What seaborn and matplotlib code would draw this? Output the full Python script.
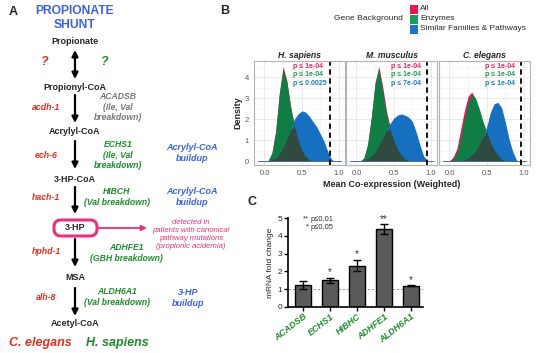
import numpy as np
import pandas as pd
import matplotlib
matplotlib.use('Agg')
import matplotlib.pyplot as plt
import seaborn as sns
from matplotlib.patches import FancyBboxPatch, Rectangle
from matplotlib.ticker import MultipleLocator

# ---- panel B: density curves (value at each x of the grid)
xs = [-0.05, 0.00, 0.05, 0.10, 0.15, 0.20, 0.25, 0.30, 0.35, 0.40, 0.45,
      0.50, 0.55, 0.60, 0.65, 0.70, 0.75, 0.80, 0.85, 0.90, 0.95, 1.00]

hs_all = [0, 0, 0.03, 0.39, 1.42, 3.28, 4.52, 3.85, 2.63, 1.71, 1.06, 0.56, 0.26, 0.08, 0.02, 0, 0, 0, 0, 0, 0, 0]
hs_enz = [0, 0, 0.03, 0.38, 1.40, 3.20, 4.40, 3.80, 2.60, 1.70, 1.05, 0.55, 0.25, 0.07, 0.01, 0, 0, 0, 0, 0, 0, 0]
hs_sim = [0, 0, 0.02, 0.07, 0.15, 0.35, 0.65, 1.05, 1.50, 2.00, 2.25, 2.40, 2.35, 2.15, 1.90, 1.65, 1.30, 0.95, 0.45, 0.08, 0.01, 0]

mm_all = [0, 0, 0.01, 0.15, 0.80, 2.10, 3.75, 4.52, 3.60, 2.45, 1.65, 1.05, 0.62, 0.30, 0.10, 0.02, 0, 0, 0, 0, 0, 0]
mm_enz = [0, 0, 0.01, 0.15, 0.80, 2.10, 3.70, 4.42, 3.40, 2.30, 1.55, 1.00, 0.60, 0.30, 0.10, 0.02, 0, 0, 0, 0, 0, 0]
mm_sim = [0, 0, 0.01, 0.05, 0.12, 0.25, 0.45, 0.75, 1.10, 1.45, 1.80, 2.05, 2.20, 2.25, 2.20, 2.10, 1.90, 1.40, 0.80, 0.25, 0.03, 0]

ce_all = [0, 0.02, 0.20, 0.60, 1.50, 2.40, 3.10, 3.30, 2.95, 2.40, 1.80, 1.30, 0.85, 0.50, 0.25, 0.08, 0.01, 0, 0, 0, 0, 0]
ce_enz = [0, 0, 0.10, 0.40, 1.10, 2.00, 2.80, 3.20, 3.00, 2.50, 1.90, 1.40, 0.90, 0.55, 0.30, 0.10, 0.02, 0, 0, 0, 0, 0]
ce_sim = [0, 0, 0, 0, 0.01, 0.05, 0.15, 0.30, 0.50, 0.80, 1.15, 1.65, 2.35, 2.75, 2.80, 2.55, 1.85, 1.05, 0.45, 0.05, 0, 0]

species = ['H. sapiens', 'M. musculus', 'C. elegans']
cutoffs = [0.88, 0.95, 0.955]
pvals = [['p ≤ 1e-04', 'p ≤ 1e-04', 'p ≤ 0.0025'],
         ['p ≤ 1e-04', 'p ≤ 1e-04', 'p ≤ 7e-04'],
         ['p ≤ 1e-04', 'p ≤ 1e-04', 'p ≤ 1e-04']]
backgrounds = ['All', 'Enzymes', 'Similar Families & Pathways']

# ---- panel C
genes = ['ACADSB', 'ECHS1', 'HIBHC', 'ADHFE1', 'ALDH6A1']
fold = [1.22, 1.49, 2.33, 4.40, 1.19]
sem = [0.21, 0.16, 0.32, 0.28, 0.03]
stars = ['', '*', '*', '**', '*']

RED = '#e3195a'
GREEN = '#0f7d44'
BLUE = '#1670bf'
DARK = '#2f4a3e'
LEG_COLS = ['#e8184f', '#17a05a', '#1a76c4']
P_COLS = ['#e0245e', '#1a9e50', '#1f7cc4']
T_RED = '#d9321f'
T_GREEN = '#1e8b2c'
T_BLUE = '#3a62e0'
PINK = '#e8327e'

sns.set_theme(style='white')
plt.rcParams['font.family'] = ['Liberation Sans', 'DejaVu Sans']

W, H = 538, 353
fig = plt.figure(figsize=(W / 100, H / 100), dpi=100)


def px_axes(l, t, r, b):
    return fig.add_axes([l / W, 1 - b / H, (r - l) / W, (b - t) / H])


# overlay for the pathway diagram, panel letters and legend
ov = fig.add_axes([0, 0, 1, 1])
ov.set_xlim(0, W)
ov.set_ylim(H, 0)
ov.axis('off')
ov.patch.set_alpha(0)

for lab, x, y in [('A', 13, 12), ('B', 225, 11), ('C', 252, 202)]:
    ov.text(x, y, lab, fontsize=9, fontweight='bold', ha='center', va='center')

ov.text(75, 11, 'PROPIONATE', color=T_BLUE, fontsize=8.7, fontweight='bold', ha='center', va='center')
ov.text(75, 25, 'SHUNT', color=T_BLUE, fontsize=8.7, fontweight='bold', ha='center', va='center')

metabolites = [('Propionate', 41), ('Propionyl-CoA', 87), ('Acrylyl-CoA', 132),
               ('3-HP-CoA', 179), ('MSA', 278), ('Acetyl-CoA', 324)]
for name, y in metabolites:
    ov.text(75, y, name, fontsize=6.5, fontweight='bold', ha='center', va='center')

ov.text(75, 228, '3-HP', fontsize=6.5, fontweight='bold', ha='center', va='center', zorder=5)
ov.add_patch(FancyBboxPatch((54, 220), 43, 16, boxstyle='round,pad=0,rounding_size=7',
                            ec=PINK, fc='white', lw=2.2, zorder=4))

arrow_kw = dict(arrowstyle='-|>', color='black', lw=1.6, mutation_scale=9, shrinkA=0, shrinkB=0)
ov.annotate('', xy=(75, 79), xytext=(75, 50),
            arrowprops=dict(arrow_kw, arrowstyle='<|-|>'))
for y0, y1 in [(95, 123), (141, 169), (187, 214), (239, 267), (288, 316)]:
    ov.annotate('', xy=(75, y1), xytext=(75, y0), arrowprops=arrow_kw)

ov.annotate('', xy=(147, 228), xytext=(97, 228),
            arrowprops=dict(arrowstyle='-|>', color=PINK, lw=1.3, mutation_scale=8, shrinkA=0, shrinkB=0))

ital = dict(fontstyle='italic', fontweight='bold', ha='center', va='center')
ov.text(45, 62, '?', color=T_RED, fontsize=9, **ital)
ov.text(105, 62, '?', color=T_GREEN, fontsize=9, **ital)

for name, y in [('acdh-1', 107), ('ech-6', 155), ('hach-1', 197), ('hphd-1', 252), ('alh-8', 298)]:
    ov.text(46, y, name, color=T_RED, fontsize=6.3, **ital)

human = [('ACADSB\n(Ile, Val\nbreakdown)', 118, 107, '#777777'),
         ('ECHS1\n(Ile, Val\nbreakdown)', 118, 155, T_GREEN),
         ('HIBCH\n(Val breakdown)', 117, 197, T_GREEN),
         ('ADHFE1\n(GBH breakdown)', 126, 253, T_GREEN),
         ('ALDH6A1\n(Val breakdown)', 117, 297, T_GREEN)]
for s, x, y, c in human:
    ov.text(x, y, s, color=c, fontsize=6.2, linespacing=1.15, **ital)

for s, x, y in [('Acrylyl-CoA\nbuildup', 192, 153), ('Acrylyl-CoA\nbuildup', 192, 197),
                ('3-HP\nbuildup', 188, 298)]:
    ov.text(x, y, s, color=T_BLUE, fontsize=6.5, linespacing=1.15, **ital)

ov.text(191, 235, 'detected in\npatients with canonical\npathway mutations\n(propionic acidemia)',
        color=PINK, fontsize=5.6, fontstyle='italic', ha='center', va='center', linespacing=1.2)

ov.text(40, 343, 'C. elegans', color=T_RED, fontsize=9, **ital)
ov.text(117, 343, 'H. sapiens', color=T_GREEN, fontsize=9, **ital)

# legend of panel B
ov.text(368, 19, 'Gene Background', fontsize=6.1, ha='center', va='center')
for i, (lab, col) in enumerate(zip(backgrounds, LEG_COLS)):
    y = 9 + i * 10
    ov.add_patch(Rectangle((410, y - 4.5), 7.5, 9, fc=col, ec='none'))
    ov.text(420, y, lab, fontsize=6, ha='left', va='center')

# ---- panel B facets
curves = [(hs_all, hs_enz, hs_sim), (mm_all, mm_enz, mm_sim), (ce_all, ce_enz, ce_sim)]
lefts = [254, 346, 439]
axes_b = []
for k, (sp, (c_all, c_enz, c_sim)) in enumerate(zip(species, curves)):
    ax = px_axes(lefts[k], 61, lefts[k] + 91, 165)
    axes_b.append(ax)
    ax.set_xlim(-0.14, 1.08)
    ax.set_ylim(-0.18, 4.78)
    ax.xaxis.set_major_locator(MultipleLocator(0.5))
    ax.xaxis.set_minor_locator(MultipleLocator(0.25))
    ax.yaxis.set_major_locator(MultipleLocator(1))
    ax.yaxis.set_minor_locator(MultipleLocator(0.5))
    ax.grid(which='major', color='#e6e6e6', lw=0.6)
    ax.grid(which='minor', color='#f2f2f2', lw=0.4)
    ax.set_axisbelow(True)
    d = pd.DataFrame({'x': xs, 'all': c_all, 'enz': c_enz, 'sim': c_sim})
    ax.fill_between(d['x'], d['all'], color=RED, lw=0)
    ax.fill_between(d['x'], d['enz'], color=GREEN, lw=0)
    ax.fill_between(d['x'], d['sim'], color=BLUE, lw=0)
    ax.fill_between(d['x'], np.minimum(d['enz'], d['sim']), color=DARK, lw=0)
    ax.axhline(0, color='#4f6b86', lw=0.7, xmin=0.04, xmax=0.96)
    ax.axvline(cutoffs[k], color='black', lw=1.3, ls=(0, (3, 2)))
    tx = [0.38, 0.47, 0.48][k]
    for j in range(3):
        ax.text(tx, 4.52 - 0.4 * j, pvals[k][j], color=P_COLS[j], fontsize=5,
                fontweight='bold', ha='left', va='center')
    ax.set_title(sp, fontsize=6.2, fontweight='bold', fontstyle='italic', pad=2.5)
    for s in ax.spines.values():
        s.set_color('#b3b3b3')
        s.set_linewidth(0.8)
    ax.tick_params(axis='both', labelsize=5.5, colors='#555555', length=2, width=0.5,
                   pad=1.5, which='major')
    ax.tick_params(which='minor', length=0)
    ax.set_xticks([0, 0.5, 1.0])
    ax.set_xticklabels(['0.0', '0.5', '1.0'])
    if k == 0:
        ax.set_yticks([0, 1, 2, 3, 4])
        ax.set_ylabel('Density', fontsize=6.5, fontweight='bold', labelpad=2)
    else:
        ax.set_yticklabels([])
        ax.tick_params(axis='y', length=0)
axes_b[1].set_xlabel('Mean Co-expression (Weighted)', fontsize=6.5, fontweight='bold', labelpad=2)

# ---- panel C bars
axc = px_axes(288, 218.3, 423, 306.7)
axc.patch.set_alpha(0)
dfc = pd.DataFrame({'gene': genes, 'fold': fold})
sns.barplot(data=dfc, x='gene', y='fold', color='#5a5a5a', saturation=1, edgecolor='black',
            linewidth=1, width=0.62, errorbar=None, ax=axc, zorder=2)
axc.errorbar(range(len(genes)), fold, yerr=sem, fmt='none', ecolor='black', elinewidth=1,
             capsize=3, capthick=1, zorder=3)
for i, (f, e, s) in enumerate(zip(fold, sem, stars)):
    if s:
        axc.text(i, f + e + 0.3, s, ha='center', va='center', fontsize=7, color='#333333')
axc.axhline(1, color='#8a8a8a', lw=0.6, ls=(0, (3, 2)), zorder=1)
axc.set_xlim(-0.56, 4.45)
axc.set_ylim(0, 5)
axc.set_yticks([0, 1, 2, 3, 4, 5])
sns.despine(ax=axc)
for s in ['left', 'bottom']:
    axc.spines[s].set_linewidth(1.2)
    axc.spines[s].set_color('black')
axc.tick_params(axis='both', length=3, width=1, color='black', direction='out', pad=1,
                labelsize=6, bottom=True, left=True)
axc.set_xlabel('')
axc.set_ylabel('mRNA fold change', fontsize=6, labelpad=3)
axc.set_xticks(range(len(genes)))
axc.set_xticklabels(genes, rotation=38, ha='right', rotation_mode='anchor', color=T_GREEN,
                    fontweight='bold', fontstyle='italic', fontsize=6.5)
for y, st, p in [(4.95, '**', 'p≤0.01'), (4.5, '*', 'p≤0.05')]:
    axc.text(0.2, y, st, fontsize=5.5, ha='right', va='center', color='#333333', clip_on=False)
    axc.text(0.26, y, p, fontsize=5.5, ha='left', va='center', color='#333333', clip_on=False)

fig.savefig('out.png', dpi=100)
